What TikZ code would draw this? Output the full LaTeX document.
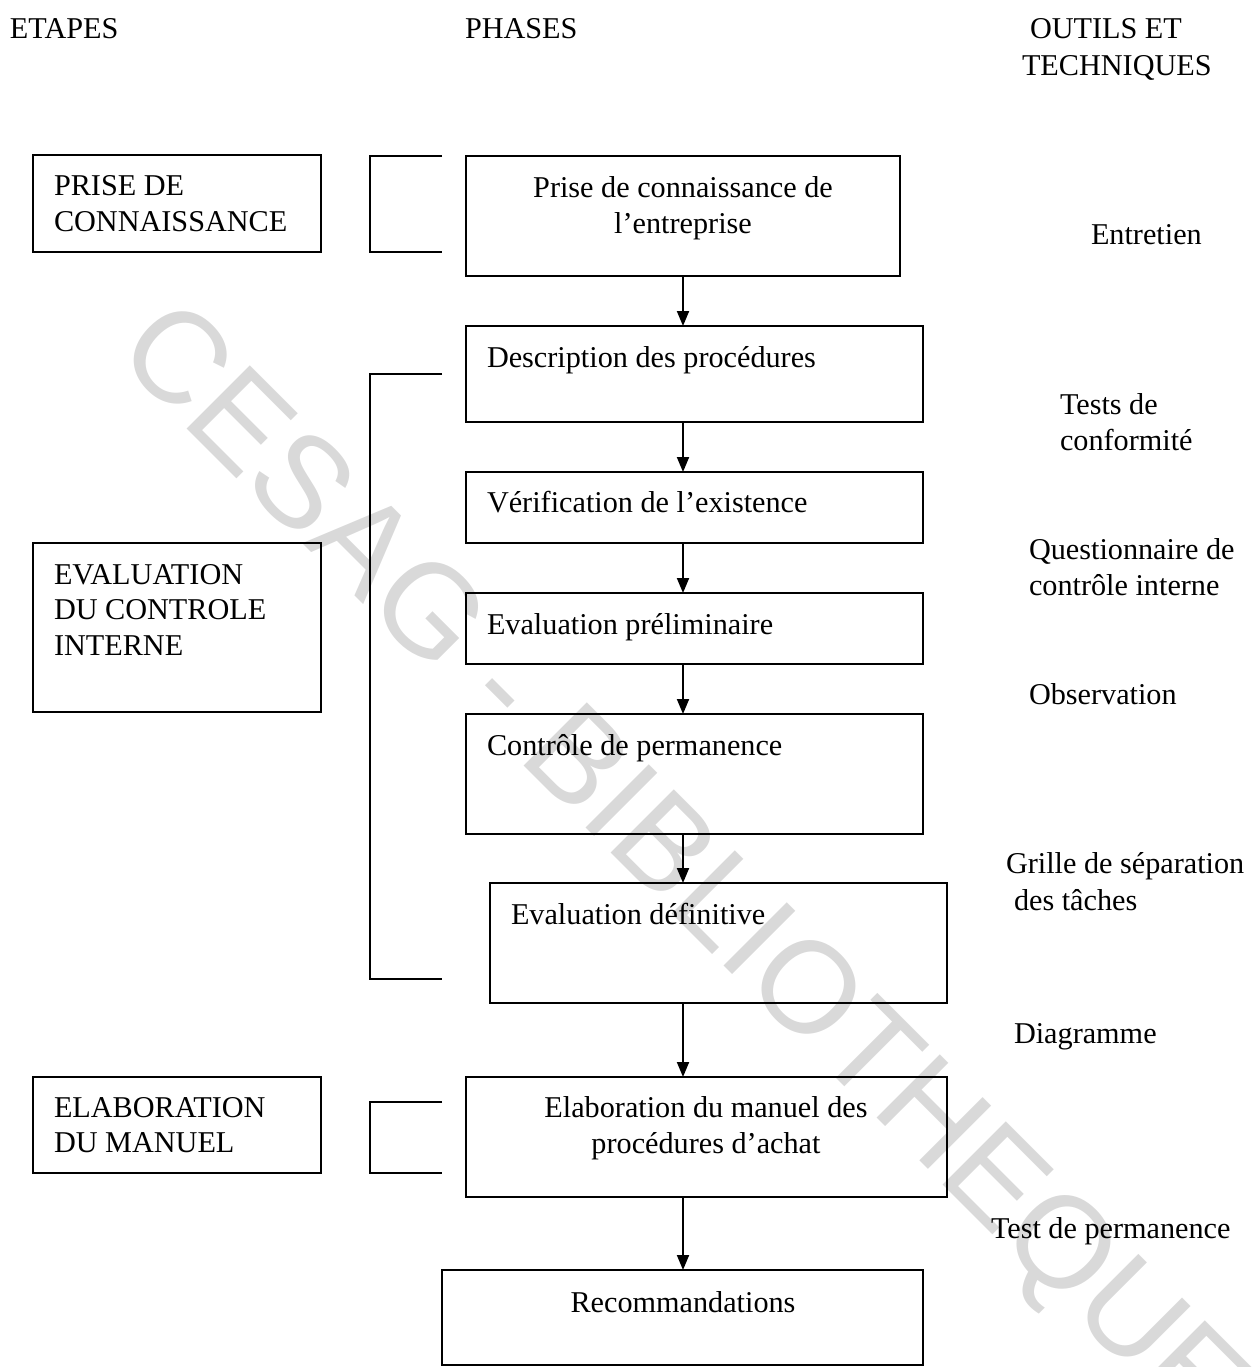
\documentclass[tikz,border=0pt]{standalone}
\usepackage{fontspec}
\setmainfont{Liberation Serif}
\newfontfamily\wmfont{Liberation Sans}
\usetikzlibrary{arrows.meta,fit}
\begin{document}
\begin{tikzpicture}[x=0.02cm,y=-0.02cm,
  every node/.style={inner sep=0pt,outer sep=0pt},
  box/.style={draw,line width=1.1pt,rectangle,inner sep=0pt},
  brk/.style={line width=1.1pt},
  lbl/.style={font=\fontsize{17.2pt}{20.5pt}\selectfont,anchor=base west},
  clbl/.style={font=\fontsize{17.2pt}{20.5pt}\selectfont,anchor=base},
  flow/.style={line width=1.1pt,-{Triangle[length=0.3cm,width=0.24cm]}},
  stampstyle/.style={font=\wmfont\fontsize{74pt}{78pt}\selectfont,text=black!15,rotate=-45}]

\useasboundingbox (0,0) rectangle (1252,1367);

% background stamp
\node[stampstyle] (stamp) at (678,873) {CESAG - BIBLIOTHEQUE};

% column headings
\node[lbl] (hEtapes) at (10,38) {ETAPES};
\node[lbl] (hPhases) at (465,38) {PHASES};
\node[lbl] (hOutilsA) at (1030,38) {OUTILS ET};
\node[lbl] (hOutilsB) at (1022,75) {TECHNIQUES};

% stages (left column)
\node[box,fit={(33,155)(321,252)}] (e1) {};
\node[lbl] (e1a) at (54,195) {PRISE DE};
\node[lbl] (e1b) at (54,231) {CONNAISSANCE};

\node[box,fit={(33,543)(321,712)}] (e2) {};
\node[lbl] (e2a) at (54,584) {EVALUATION};
\node[lbl] (e2b) at (54,619) {DU CONTROLE};
\node[lbl] (e2c) at (54,655) {INTERNE};

\node[box,fit={(33,1077)(321,1173)}] (e3) {};
\node[lbl] (e3a) at (54,1117) {ELABORATION};
\node[lbl] (e3b) at (54,1152) {DU MANUEL};

% brackets grouping the phases
\coordinate (k1t) at (442,156);  \coordinate (k1b) at (442,252);
\coordinate (k2t) at (442,374);  \coordinate (k2b) at (442,979);
\coordinate (k3t) at (442,1102); \coordinate (k3b) at (442,1173);
\draw[brk] (k1t) -- ++(-72,0) |- (k1b);
\draw[brk] (k2t) -- ++(-72,0) |- (k2b);
\draw[brk] (k3t) -- ++(-72,0) |- (k3b);

% phases (middle column)
\node[box,fit={(466,156)(900,276)}] (p1) {};
\node[clbl] (p1a) at (683,197) {Prise de connaissance de};
\node[clbl] (p1b) at (683,233) {l’entreprise};

\node[box,fit={(466,326)(923,422)}] (p2) {};
\node[lbl] (p2a) at (487,367) {Description des procédures};

\node[box,fit={(466,472)(923,543)}] (p3) {};
\node[lbl] (p3a) at (487,512) {Vérification de l’existence};

\node[box,fit={(466,593)(923,664)}] (p4) {};
\node[lbl] (p4a) at (487,634) {Evaluation préliminaire};

\node[box,fit={(466,714)(923,834)}] (p5) {};
\node[lbl] (p5a) at (487,755) {Contrôle de permanence};

\node[box,fit={(490,883)(947,1003)}] (p6) {};
\node[lbl] (p6a) at (511,924) {Evaluation définitive};

\node[box,fit={(466,1077)(947,1197)}] (p7) {};
\node[clbl] (p7a) at (706,1117) {Elaboration du manuel des};
\node[clbl] (p7b) at (706,1153) {procédures d’achat};

\node[box,fit={(442,1270)(923,1365)}] (p8) {};
\node[clbl] (p8a) at (683,1312) {Recommandations};

% flow arrows along one vertical axis
\coordinate (ax) at (683,0);
\draw[flow] (p1.south -| ax) -- (p2.north -| ax);
\draw[flow] (p2.south -| ax) -- (p3.north -| ax);
\draw[flow] (p3.south -| ax) -- (p4.north -| ax);
\draw[flow] (p4.south -| ax) -- (p5.north -| ax);
\draw[flow] (p5.south -| ax) -- (p6.north -| ax);
\draw[flow] (p6.south -| ax) -- (p7.north -| ax);
\draw[flow] (p7.south -| ax) -- (p8.north -| ax);

% tools and techniques (right column)
\node[lbl] (t1) at (1091,244) {Entretien};
\node[lbl] (t2a) at (1060,414) {Tests de};
\node[lbl] (t2b) at (1060,450) {conformité};
\node[lbl] (t3a) at (1029,559) {Questionnaire de};
\node[lbl] (t3b) at (1029,595) {contrôle interne};
\node[lbl] (t4) at (1029,704) {Observation};
\node[lbl] (t5a) at (1006,873) {Grille de séparation};
\node[lbl] (t5b) at (1014,910) {des tâches};
\node[lbl] (t6) at (1014,1043) {Diagramme};
\node[lbl] (t7) at (991,1238) {Test de permanence};
\end{tikzpicture}
\end{document}
